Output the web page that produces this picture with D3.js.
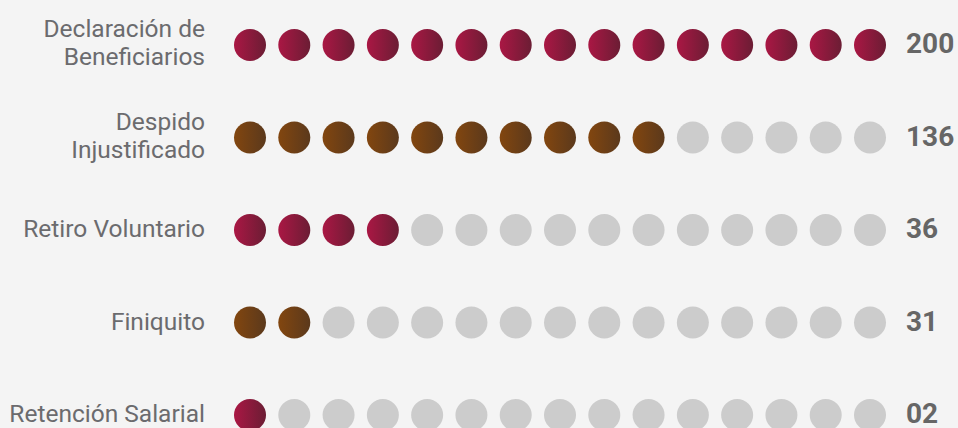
<!DOCTYPE html>
<html>
<head>
<meta charset="utf-8">
<script src="https://cdn.jsdelivr.net/npm/d3@7"></script>
<style>
  html, body { margin: 0; padding: 0; background: #f4f4f4; }
  svg { display: block; }
</style>
</head>
<body>
<div id="chart"></div>
<script>
// chart data
var categories = ["Declaración de Beneficiarios", "Despido Injustificado", "Retiro Voluntario", "Finiquito", "Retención Salarial"];
var labelLines = [["Declaración de", "Beneficiarios"], ["Despido", "Injustificado"], ["Retiro Voluntario"], ["Finiquito"], ["Retención Salarial"]];
var values = ["200", "136", "36", "31", "02"];
var filledDots = [15, 10, 4, 2, 1];
var totalDots = 15;
var palette = ["crimson", "brown", "crimson", "brown", "crimson"];

var svgWidth = 958;
var svgHeight = 428;

var svg = d3.select("#chart")
  .append("svg")
  .attr("width", svgWidth)
  .attr("height", svgHeight);

svg.append("rect")
  .attr("width", svgWidth)
  .attr("height", svgHeight)
  .attr("fill", "#f4f4f4");

// gradients
var defs = svg.append("defs");
function addGradient(id, from, to) {
  var g = defs.append("linearGradient")
    .attr("id", id)
    .attr("x1", "0%").attr("x2", "100%")
    .attr("y1", "0%").attr("y2", "0%");
  g.append("stop").attr("offset", "0%").attr("stop-color", from);
  g.append("stop").attr("offset", "100%").attr("stop-color", to);
}
addGradient("crimson", "#aa1744", "#6b1d34");
addGradient("brown", "#82460f", "#5b391c");

var dotIndex = d3.range(totalDots);

var xScale = d3.scalePoint()
  .domain(dotIndex)
  .range([250, 870]);

var yScale = d3.scalePoint()
  .domain(categories)
  .range([45, 415]);

var rows = svg.selectAll("g.row")
  .data(categories)
  .enter()
  .append("g")
  .attr("class", "row")
  .attr("transform", d => `translate(0, ${yScale(d)})`);

// dots
rows.each(function(cat, i) {
  d3.select(this).selectAll("circle")
    .data(dotIndex)
    .enter()
    .append("circle")
    .attr("cx", d => xScale(d))
    .attr("cy", 0)
    .attr("r", 16)
    .attr("fill", d => d < filledDots[i] ? `url(#${palette[i]})` : "#cccccc");
});

// labels
rows.append("text")
  .attr("text-anchor", "end")
  .attr("font-family", "Roboto, sans-serif")
  .attr("font-size", "24.5px")
  .attr("fill", "#6b6b6e")
  .each(function(cat, i) {
    var lines = labelLines[i];
    var t = d3.select(this);
    lines.forEach(function(line, j) {
      t.append("tspan")
        .attr("x", 205)
        .attr("y", lines.length === 1 ? 7 : -8 + j * 28)
        .text(line);
    });
  });

// values
rows.append("text")
  .attr("x", 906)
  .attr("y", 8)
  .attr("font-family", "Roboto, sans-serif")
  .attr("font-weight", "bold")
  .attr("font-size", "28px")
  .attr("fill", "#666666")
  .text((d, i) => values[i]);
</script>
</body>
</html>
